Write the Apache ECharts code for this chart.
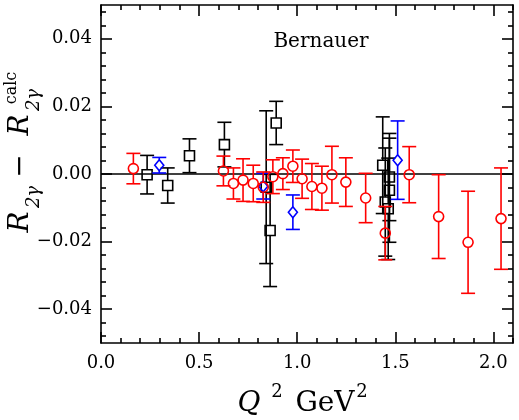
<!DOCTYPE html>
<html>
<head>
<meta charset="utf-8">
<script src="https://cdn.jsdelivr.net/npm/echarts@6/dist/echarts.min.js"></script>
<style>
html,body{margin:0;padding:0;background:#fff;}
#chart{width:519px;height:420px;}
</style>
</head>
<body>
<div id="chart"></div>
<script>
// ---- data (Q^2 in GeV^2, residual, error) ----
var redX   = [0.165, 0.624, 0.675, 0.724, 0.776, 0.827, 0.876, 0.927, 0.978, 1.025, 1.075, 1.126, 1.177, 1.248, 1.349, 1.449, 1.571, 1.721, 1.871, 2.039];
var redY   = [0.0016, 0.0009, -0.0028, -0.0018, -0.0028, -0.0039, -0.0008, 0.0001, 0.0023, -0.0014, -0.0037, -0.0042, -0.0002, -0.0024, -0.0071, -0.0175, -0.0002, -0.0126, -0.0202, -0.0132];
var redErr = [0.0045, 0.0044, 0.0046, 0.0063, 0.0054, 0.0045, 0.0050, 0.0047, 0.0048, 0.0058, 0.0068, 0.0065, 0.0084, 0.0072, 0.0073, 0.0079, 0.0083, 0.0124, 0.0151, 0.0150];

var blackX   = [0.235, 0.340, 0.451, 0.629, 0.842, 0.862, 0.893, 1.436, 1.470, 1.470, 1.449, 1.464];
var blackY   = [-0.0002, -0.0034, 0.0054, 0.0087, -0.0039, -0.0167, 0.0151, 0.0026, -0.0009, -0.0048, -0.0083, -0.0103];
var blackErr = [0.0057, 0.0052, 0.0050, 0.0066, 0.0226, 0.0166, 0.0064, 0.0143, 0.0129, 0.0154, 0.0160, 0.0150];

var blueX   = [0.297, 0.827, 0.978, 1.512];
var blueY   = [0.0026, -0.0036, -0.0113, 0.0041];
var blueErr = [0.0023, 0.0038, 0.0051, 0.0116];

var xMajorTicks = [0, 0.5, 1.0, 1.5, 2.0];
var xMinorTicks = [0.1,0.2,0.3,0.4,0.6,0.7,0.8,0.9,1.1,1.2,1.3,1.4,1.6,1.7,1.8,1.9,2.1];
var yMajorTicks = [-0.04, -0.02, 0, 0.02, 0.04];
var yMinorTicks = [-0.048,-0.044,-0.036,-0.032,-0.028,-0.024,-0.016,-0.012,-0.008,-0.004,0.004,0.008,0.012,0.016,0.024,0.028,0.032,0.036,0.044,0.048];
var zeroLine = [[0, 0], [2.1, 0]];

function zip(xs, ys, es){ return xs.map(function(x,i){ return [x, ys[i], es[i]]; }); }

var FONT = '"DejaVu Serif", serif';
var LW = 1.6;

function makeRender(shape, color){
  return function(params, api){
    var x = api.value(0), y = api.value(1), e = api.value(2);
    var p = api.coord([x, y]);
    var t = api.coord([x, y + e]);
    var b = api.coord([x, y - e]);
    var cw = 7;
    var r = shape === 'diamond' ? 5.5 : 5;
    var st = {stroke: color, lineWidth: LW, fill: 'none'};
    var ch = [];
    if (t[1] < p[1] - r) ch.push({type:'line', shape:{x1:p[0], y1:t[1], x2:p[0], y2:p[1]-r}, style:st});
    if (b[1] > p[1] + r) ch.push({type:'line', shape:{x1:p[0], y1:p[1]+r, x2:p[0], y2:b[1]}, style:st});
    ch.push({type:'line', shape:{x1:p[0]-cw, y1:t[1], x2:p[0]+cw, y2:t[1]}, style:st});
    ch.push({type:'line', shape:{x1:p[0]-cw, y1:b[1], x2:p[0]+cw, y2:b[1]}, style:st});
    if (shape === 'circle') {
      ch.push({type:'circle', shape:{cx:p[0], cy:p[1], r:5}, style:st});
    } else if (shape === 'rect') {
      ch.push({type:'rect', shape:{x:p[0]-5, y:p[1]-5, width:10, height:10}, style:st});
    } else {
      ch.push({type:'polygon', shape:{points:[[p[0],p[1]-5.5],[p[0]+4.5,p[1]],[p[0],p[1]+5.5],[p[0]-4.5,p[1]]]}, style:st});
    }
    return {type:'group', children: ch};
  };
}

function yFmt(v){
  if (Math.abs(v) < 1e-9) return '0.00';
  return (v < 0 ? '\u2212' : '') + Math.abs(v).toFixed(2);
}

var lineBlack = {color:'#000', width:1.6};

function xAxisDef(pos, ticks, len, labels, showLine){
  return {
    type:'value', position: pos, min:0, max:2.1,
    axisLine:{show:showLine, onZero:false, lineStyle:lineBlack},
    axisTick:{show:true, inside:true, length:len, customValues:ticks, lineStyle:lineBlack},
    axisLabel:{show:labels, customValues:ticks, margin:11, color:'#000', fontFamily:FONT, fontSize:18,
      formatter:function(v){ return v.toFixed(1); }},
    splitLine:{show:false}
  };
}
function yAxisDef(pos, ticks, len, labels, showLine){
  return {
    type:'value', position: pos, min:-0.05, max:0.05,
    axisLine:{show:showLine, onZero:false, lineStyle:lineBlack},
    axisTick:{show:true, inside:true, length:len, customValues:ticks, lineStyle:lineBlack},
    axisLabel:{show:labels, customValues:ticks, margin:9, color:'#000', fontFamily:FONT, fontSize:18, formatter:yFmt},
    splitLine:{show:false}
  };
}

var chart = echarts.init(document.getElementById('chart'), null, {renderer:'canvas'});
chart.setOption({
  animation:false,
  backgroundColor:'#fff',
  grid:{left:101, right:6, top:5, bottom:77, containLabel:false},
  xAxis:[
    xAxisDef('bottom', xMajorTicks, 11, true, true),
    xAxisDef('bottom', xMinorTicks, 5, false, false),
    xAxisDef('top', xMajorTicks, 11, false, true),
    xAxisDef('top', xMinorTicks, 5, false, false)
  ],
  yAxis:[
    yAxisDef('left', yMajorTicks, 11, true, true),
    yAxisDef('left', yMinorTicks, 5, false, false),
    yAxisDef('right', yMajorTicks, 11, false, true),
    yAxisDef('right', yMinorTicks, 5, false, false)
  ],
  graphic:[
    {type:'text', x:321, y:42, style:{text:'Bernauer', font:'20px ' + FONT, fill:'#000', textAlign:'center', textVerticalAlign:'middle'}},
    {type:'group', x:0, y:240, rotation:Math.PI/2, children:[
      {type:'text', x:18, y:21, style:{text:'R', font:'italic 28px ' + FONT, fill:'#000', textAlign:'center', textVerticalAlign:'middle'}},
      {type:'text', x:43, y:34, style:{text:'2\u03b3', font:'italic 18px ' + FONT, fill:'#000', textAlign:'center', textVerticalAlign:'middle'}},
      {type:'text', x:74, y:21, style:{text:'\u2212', font:'28px ' + FONT, fill:'#000', textAlign:'center', textVerticalAlign:'middle'}},
      {type:'text', x:115, y:21, style:{text:'R', font:'italic 28px ' + FONT, fill:'#000', textAlign:'center', textVerticalAlign:'middle'}},
      {type:'text', x:140, y:34, style:{text:'2\u03b3', font:'italic 18px ' + FONT, fill:'#000', textAlign:'center', textVerticalAlign:'middle'}},
      {type:'text', x:152, y:12, style:{text:'calc', font:'16px ' + FONT, fill:'#000', textAlign:'center', textVerticalAlign:'middle'}}
    ]},
    {type:'text', x:249, y:404, style:{text:'Q', font:'italic 28px ' + FONT, fill:'#000', textAlign:'center', textVerticalAlign:'middle'}},
    {type:'text', x:277, y:392, style:{text:'2', font:'18px ' + FONT, fill:'#000', textAlign:'center', textVerticalAlign:'middle'}},
    {type:'text', x:325, y:404, style:{text:'GeV', font:'28px ' + FONT, fill:'#000', textAlign:'center', textVerticalAlign:'middle'}},
    {type:'text', x:362, y:392, style:{text:'2', font:'18px ' + FONT, fill:'#000', textAlign:'center', textVerticalAlign:'middle'}}
  ],
  series:[
    {type:'line', data:zeroLine, symbol:'none', lineStyle:{color:'#000', width:1.6}, silent:true, z:1},
    {type:'custom', data:zip(blackX, blackY, blackErr), renderItem:makeRender('rect', '#000'), encode:{x:0, y:1}, z:2},
    {type:'custom', data:zip(blueX, blueY, blueErr), renderItem:makeRender('diamond', '#0000ff'), encode:{x:0, y:1}, z:3},
    {type:'custom', data:zip(redX, redY, redErr), renderItem:makeRender('circle', '#ff0000'), encode:{x:0, y:1}, z:4}
  ]
});
</script>
</body>
</html>
